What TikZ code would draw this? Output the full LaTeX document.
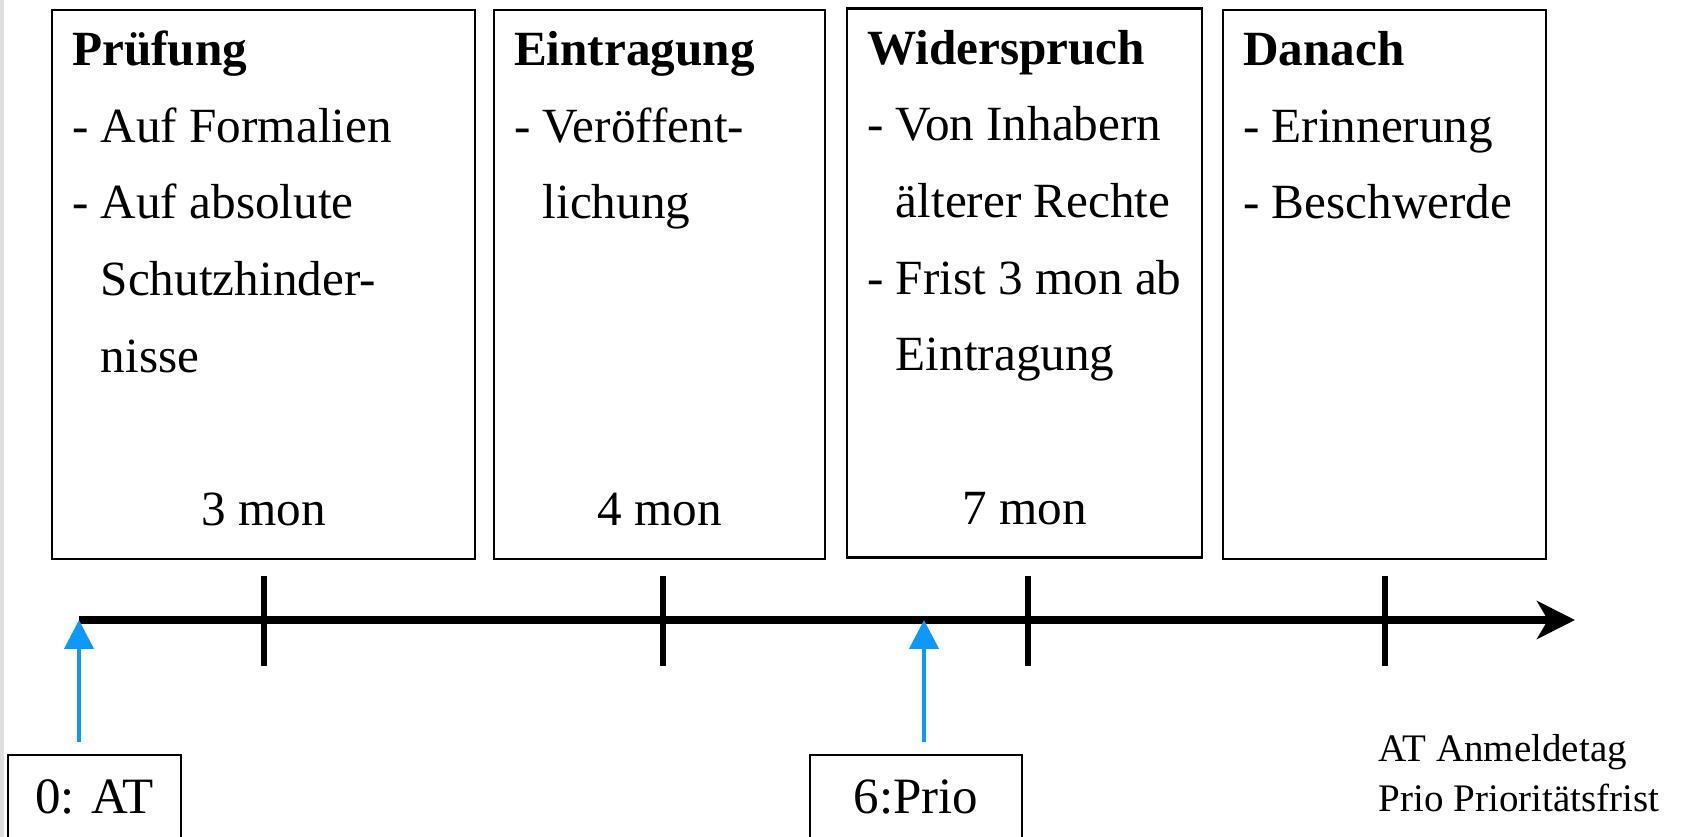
\documentclass[tikz,border=0pt]{standalone}
\usepackage{fontspec}
\setmainfont{Liberation Serif}
\usetikzlibrary{calc, positioning, arrows.meta}

\definecolor{pfeilblau}{RGB}{14,152,250}
\newcommand{\weiter}{\phantom{- }}

\tikzset{
 phase/.style={draw, line width=0.7pt, rectangle, anchor=north west, inner sep=0pt, outer sep=0pt, minimum height=54.9mm},
 inhalt/.style={anchor=north west, align=left, inner sep=0pt, font=\fontsize{14}{21.8}\selectfont},
 dauer/.style={anchor=base, inner sep=0pt, font=\fontsize{14}{17}\selectfont},
 marke/.style={draw, line width=0.7pt, anchor=north, inner sep=0pt, outer sep=0pt, minimum height=8.4mm, font=\fontsize{14.5}{17}\selectfont},
 strich/.style={line width=1.8pt},
 zeitachse/.style={line width=2.3pt, -{Stealth[length=3.8mm, width=3.8mm, inset=1.1mm]}},
 hinweis/.style={pfeilblau, line width=1.3pt, -{Triangle[length=2.9mm, width=2.9mm]}}
}

\begin{document}
\begin{tikzpicture}[x=0.1mm, y=-0.1mm]
 \useasboundingbox (0,0) rectangle (1681,837);
 \clip (0,0) rectangle (1681,837);
 \fill[black!13] (0,0) rectangle (4,837);

 \node[phase, minimum width=42.3mm] (pruefung) at (52,10) {};
 \node[phase, minimum width=33.1mm] (eintragung) at (494,10) {};
 \node[phase, minimum width=35.5mm] (widerspruch) at (847,8.5) {};
 \node[phase, minimum width=32.3mm] (danach) at (1223,10) {};

 \node[inhalt] (pruefungText) at ([xshift=1.94mm, yshift=-0.14mm]pruefung.north west)
  {\strut\textbf{Prüfung}\\- Auf Formalien\\- Auf absolute\\\weiter Schutzhinder-\\\weiter nisse};
 \node[inhalt] (eintragungText) at ([xshift=1.94mm, yshift=-0.14mm]eintragung.north west)
  {\strut\textbf{Eintragung}\\- Veröffent-\\\weiter lichung};
 \node[inhalt] (widerspruchText) at ([xshift=1.94mm, yshift=-0.14mm]widerspruch.north west)
  {\strut\textbf{Widerspruch}\\- Von Inhabern\\\weiter älterer Rechte\\- Frist 3 mon ab\\\weiter Eintragung};
 \node[inhalt] (danachText) at ([xshift=1.94mm, yshift=-0.14mm]danach.north west)
  {\strut\textbf{Danach}\\- Erinnerung\\- Beschwerde};

 \node[dauer] (pruefungDauer) at ([yshift=3.3mm]pruefung.south) {3 mon};
 \node[dauer] (eintragungDauer) at ([yshift=3.3mm]eintragung.south) {4 mon};
 \node[dauer] (widerspruchDauer) at ([yshift=3.3mm]widerspruch.south) {7 mon};

 \coordinate (start) at (79,620);
 \coordinate (ende) at (1575,620);
 \coordinate (prioPunkt) at (924,620);

 \foreach \x in {264, 663, 1028, 1385}
  \draw[strich] (\x,576) -- ++(0,90);

 \draw[zeitachse] (start) -- (ende);

 \node[marke, minimum width=17.3mm] (at) at (94.5,755) {0: AT};
 \node[marke, minimum width=21.2mm] (prio) at (916,755) {6:Prio};

 \draw[hinweis] ($(at.north -| start)+(0,-13)$) -- (start);
 \draw[hinweis] ($(prio.north -| prioPunkt)+(0,-13)$) -- (prioPunkt);

 \node[anchor=base west, align=left, inner sep=0pt, font=\fontsize{11.1}{14.2}\selectfont] (legende)
  at (1378,811) {AT Anmeldetag\\Prio Prioritätsfrist};
\end{tikzpicture}
\end{document}
